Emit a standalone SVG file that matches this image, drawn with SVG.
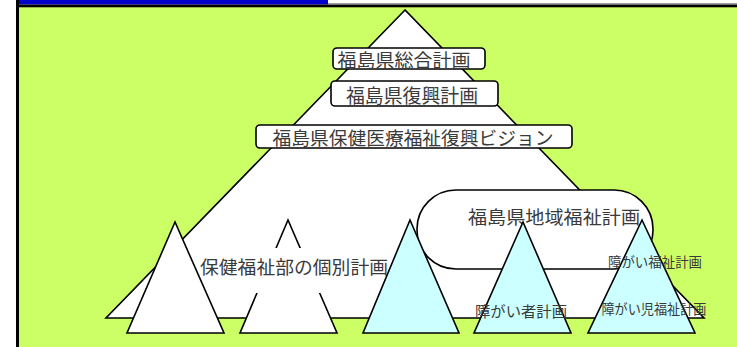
<svg xmlns="http://www.w3.org/2000/svg" width="737" height="347" viewBox="0 0 737 347">
<style>
.t{font-family:"Noto Sans CJK JP","Noto Sans CJK SC",sans-serif;fill:#3a3a3a;dominant-baseline:central;text-anchor:middle}
.box{fill:#fff;stroke:#000;stroke-width:1.6}
.tri{fill:#fff;stroke:#000;stroke-width:1.6;stroke-linejoin:miter}
.cy{fill:#ccffff;stroke:#000;stroke-width:1.6}
</style>
<rect x="0" y="0" width="737" height="347" fill="#fff"/>
<rect x="19" y="7" width="718" height="340" fill="#ccff66"/>
<rect x="19" y="0" width="309" height="4.5" fill="#0000cc"/>
<rect x="328" y="3" width="409" height="1.2" fill="#999"/>
<rect x="16" y="4.5" width="721" height="2.8" fill="#000"/>
<rect x="16" y="0" width="3" height="347" fill="#000"/>
<g id="pyramid"><polygon class="tri" points="405,10 106,318 704,318"/></g>
<g id="box-sogo"><rect class="box" x="333" y="48" width="152" height="21" rx="4"/><text class="t" x="404" y="59" font-size="18" textLength="133" lengthAdjust="spacingAndGlyphs">福島県総合計画</text></g>
<g id="box-fukko"><rect class="box" x="331" y="81" width="167" height="25" rx="4"/><text class="t" x="412" y="94" font-size="19" textLength="132" lengthAdjust="spacingAndGlyphs">福島県復興計画</text></g>
<g id="box-vision"><rect class="box" x="256" y="125" width="316" height="23" rx="4"/><text class="t" x="413" y="137" font-size="18.5" textLength="281" lengthAdjust="spacingAndGlyphs">福島県保健医療福祉復興ビジョン</text></g>
<g id="chiiki"><rect class="box" x="417" y="190" width="236" height="79" rx="39" ry="39"/><text class="t" x="554" y="216" font-size="18" textLength="172" lengthAdjust="spacingAndGlyphs">福島県地域福祉計画</text></g>
<g id="tri-w1"><polygon class="tri" points="175,222 127,333 224,333"/></g>
<g id="tri-w2"><polygon class="tri" points="288,220 240,333 337,333"/></g>
<g id="kobetsu"><rect x="207" y="248" width="178" height="45" fill="#fff"/><text class="t" x="294" y="266" font-size="18.5" textLength="188" lengthAdjust="spacingAndGlyphs">保健福祉部の個別計画</text></g>
<g id="tri-c1"><polygon class="cy" points="410,220 363,333 459,333"/></g>
<g id="tri-c2"><polygon class="cy" points="523,222 474,333 571,333"/></g>
<g id="tri-c3"><polygon class="cy" points="642,220 588,333 695,333"/></g>
<g id="labels">
<text class="t" x="655" y="261" font-size="13.5" textLength="94" lengthAdjust="spacingAndGlyphs">障がい福祉計画</text>
<text class="t" x="521" y="310" font-size="15" textLength="92" lengthAdjust="spacingAndGlyphs">障がい者計画</text>
<text class="t" x="654" y="308" font-size="13.5" textLength="105" lengthAdjust="spacingAndGlyphs">障がい児福祉計画</text>
</g>
<g id="connectors"/>
</svg>
